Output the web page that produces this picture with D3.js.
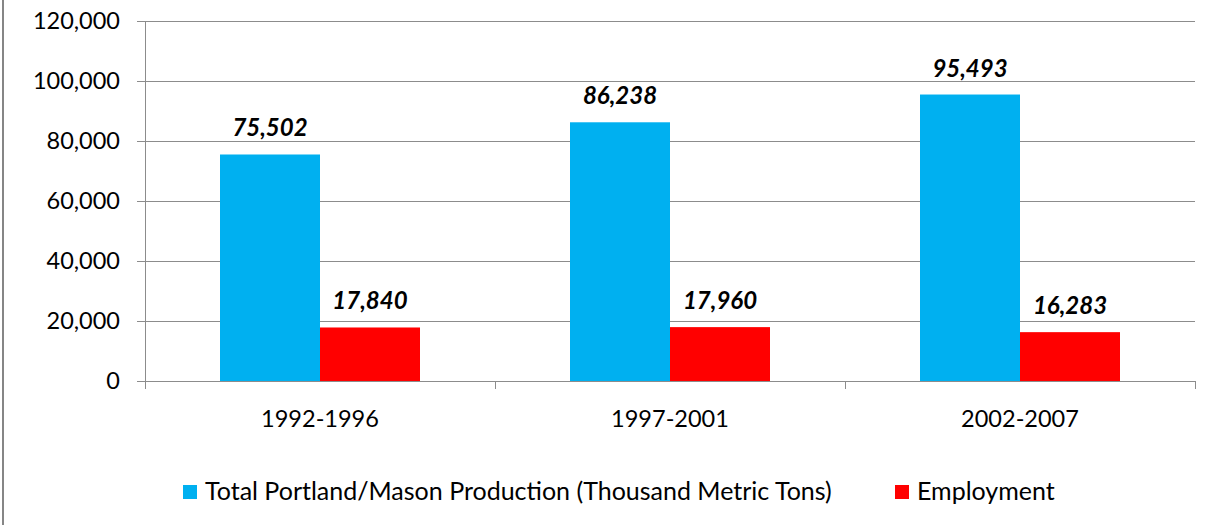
<!DOCTYPE html>
<html>
<head>
<meta charset="utf-8">
<script src="https://cdn.jsdelivr.net/npm/d3@7"></script>
<style>
  body { margin: 0; background: #fff; }
  text { font-family: Lato, "Open Sans", sans-serif; }
</style>
</head>
<body>
<div id="chart"></div>
<script>
// Chart data
const periods = ["1992-1996", "1997-2001", "2002-2007"];
const seriesNames = ["Total Portland/Mason Production (Thousand Metric Tons)", "Employment"];
const production = [75502, 86238, 95493];
const employment = [17840, 17960, 16283];
const yTicks = [0, 20000, 40000, 60000, 80000, 100000, 120000];
const colors = ["#00b0f0", "#ff0000"];

const W = 1217, H = 525;
const margin = {top: 21, right: 22, bottom: 144, left: 145};
const width = W - margin.left - margin.right,
      height = H - margin.top - margin.bottom;

const svg = d3.select("#chart").append("svg")
    .attr("width", W)
    .attr("height", H);

// outer frame line on the left
svg.append("rect")
    .attr("x", 3).attr("y", -5)
    .attr("width", W + 10).attr("height", H + 10)
    .attr("fill", "none")
    .attr("stroke", "#868686")
    .attr("stroke-width", 2);

const g = svg.append("g")
    .attr("transform", `translate(${margin.left},${margin.top})`);

const x0 = d3.scaleBand().domain(periods).range([0, width]).paddingInner(0).paddingOuter(0);
const x1 = d3.scaleBand().domain([0, 1]).range([x0.bandwidth() * 0.2143, x0.bandwidth() * 0.7857]);
const y = d3.scaleLinear().domain([0, 120000]).range([height, 0]);

// gridlines
g.selectAll(".grid")
  .data(yTicks.slice(1))
  .enter()
  .append("line")
    .attr("x1", 0).attr("x2", width)
    .attr("y1", d => Math.round(y(d)) + 0.5).attr("y2", d => Math.round(y(d)) + 0.5)
    .attr("stroke", "#8c8c8c");

// y axis
const yAxis = g.append("g")
    .call(d3.axisLeft(y).tickValues(yTicks).tickFormat(d3.format(",")).tickSize(8).tickPadding(17));
yAxis.select(".domain").attr("stroke", "#8c8c8c");
yAxis.selectAll(".tick line").attr("stroke", "#8c8c8c");
yAxis.selectAll("text").attr("font-size", "23.5px").attr("fill", "#000").attr("font-family", "Lato");

// bars
const groups = g.selectAll(".period")
  .data(periods)
  .enter()
  .append("g")
    .attr("transform", d => `translate(${x0(d)},0)`);

const barData = (d, i) => [production[i], employment[i]].map((v, s) => ({s, v}));

groups.selectAll("rect")
  .data(barData)
  .enter()
  .append("rect")
    .attr("x", d => x1(d.s))
    .attr("width", x1.bandwidth())
    .attr("y", d => y(d.v))
    .attr("height", d => height - y(d.v))
    .attr("fill", d => colors[d.s]);

groups.selectAll(".label")
  .data(barData)
  .enter()
  .append("text")
    .attr("x", d => x1(d.s) + x1.bandwidth() / 2)
    .attr("y", d => y(d.v) - 18)
    .attr("text-anchor", "middle")
    .attr("font-size", "24px")
    .attr("font-weight", "bold")
    .attr("font-style", "italic")
    .text(d => d3.format(",")(d.v));

// x axis
const xAxis = g.append("g")
    .attr("transform", `translate(0,${height})`)
    .call(d3.axisBottom(x0).tickSize(0).tickPadding(29));
xAxis.select(".domain").attr("stroke", "#8c8c8c");
xAxis.selectAll("text").attr("font-size", "23.5px").attr("fill", "#000").attr("font-family", "Lato");
// category boundary ticks
xAxis.selectAll(".sep")
  .data(d3.range(periods.length + 1))
  .enter()
  .append("line")
    .attr("x1", i => i * x0.step() + 0.5).attr("x2", i => i * x0.step() + 0.5)
    .attr("y1", 0).attr("y2", 8)
    .attr("stroke", "#8c8c8c");

// legend
const legendX = [183, 895];
const legend = svg.selectAll(".legend")
  .data(seriesNames)
  .enter()
  .append("g")
    .attr("transform", (d, i) => `translate(${legendX[i]},485)`);
legend.append("rect")
    .attr("width", 14).attr("height", 14)
    .attr("fill", (d, i) => colors[i]);
legend.append("text")
    .attr("x", 22).attr("y", 15)
    .attr("font-size", "25px")
    .text(d => d);
</script>
</body>
</html>
